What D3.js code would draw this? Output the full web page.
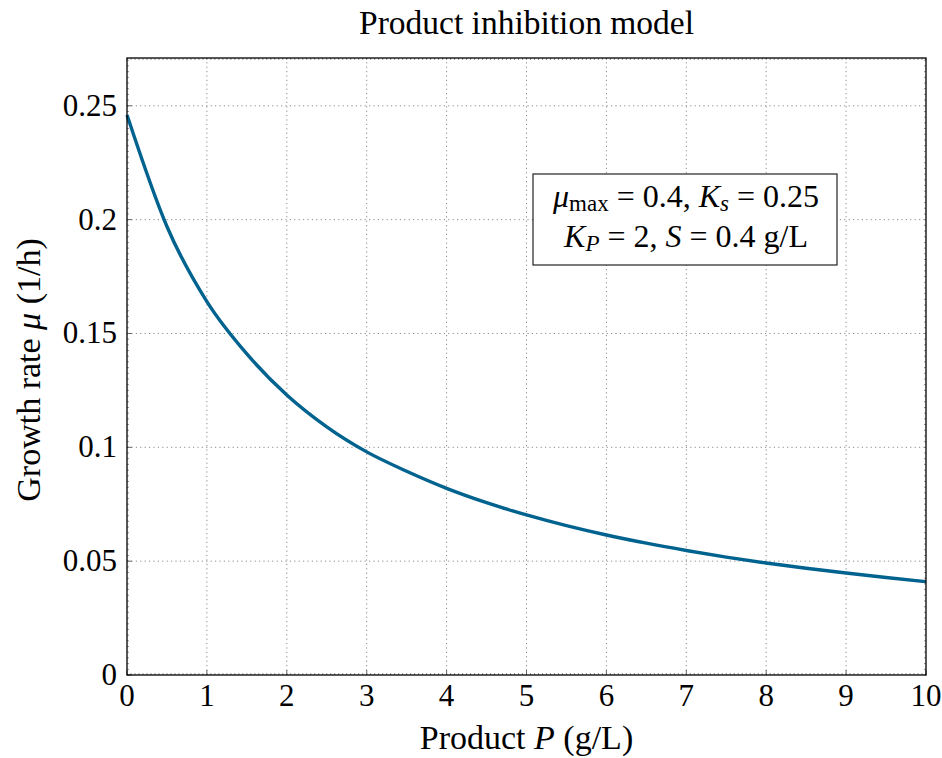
<!DOCTYPE html>
<html>
<head>
<meta charset="utf-8">
<script src="https://cdn.jsdelivr.net/npm/d3@7"></script>
<style>
  body { margin: 0; background: #fff; }
  text { font-family: "Liberation Serif", "DejaVu Serif", serif; fill: #000; }
</style>
</head>
<body>
<div id="chart"></div>
<script>
// values
const productP = [0, 0.5, 1, 1.5, 2, 2.5, 3, 3.5, 4, 4.5, 5, 5.5, 6, 6.5, 7, 7.5, 8, 8.5, 9, 9.5, 10];
const growthRate = [0.246, 0.197, 0.164, 0.141, 0.123, 0.109, 0.098, 0.0895, 0.082, 0.0757, 0.0703,
                    0.0656, 0.0615, 0.0579, 0.0547, 0.0518, 0.0492, 0.0469, 0.0448, 0.0428, 0.041];
const xTicks = [0, 1, 2, 3, 4, 5, 6, 7, 8, 9, 10];
const yTicks = [0, 0.05, 0.1, 0.15, 0.2, 0.25];

const width = 942, height = 758;
const margin = { top: 58, right: 16, bottom: 83, left: 127 };

const svg = d3.select("#chart").append("svg")
    .attr("width", width)
    .attr("height", height);

const x = d3.scaleLinear()
    .domain([0, 10])
    .range([margin.left, width - margin.right]);

const y = d3.scaleLinear()
    .domain([0, 0.271])
    .range([height - margin.bottom, margin.top]);

const data = productP.map((p, i) => ({ p: p, mu: growthRate[i] }));

// grid
svg.append("g")
    .selectAll("line")
    .data(xTicks.slice(1, -1))
    .join("line")
    .attr("x1", d => x(d)).attr("x2", d => x(d))
    .attr("y1", y.range()[0]).attr("y2", y.range()[1])
    .attr("stroke", "#8a8a8a")
    .attr("stroke-width", 1)
    .attr("stroke-dasharray", "1.2,3.2");

svg.append("g")
    .selectAll("line")
    .data(yTicks.slice(1))
    .join("line")
    .attr("x1", x.range()[0]).attr("x2", x.range()[1])
    .attr("y1", d => y(d)).attr("y2", d => y(d))
    .attr("stroke", "#8a8a8a")
    .attr("stroke-width", 1)
    .attr("stroke-dasharray", "1.2,3.2");

// minor ticks
const xMinor = d3.range(0, 10.0001, 0.05);
const yMinor = d3.range(0, 0.271, 0.0025);
const minorG = svg.append("g").attr("stroke", "#666").attr("stroke-width", 0.7);
minorG.selectAll(".xm")
    .data(xMinor)
    .join("line")
    .attr("class", "xm")
    .attr("x1", d => x(d)).attr("x2", d => x(d))
    .attr("y1", y(0)).attr("y2", y(0) - 2);
minorG.selectAll(".xm2")
    .data(xMinor)
    .join("line")
    .attr("class", "xm2")
    .attr("x1", d => x(d)).attr("x2", d => x(d))
    .attr("y1", y.range()[1]).attr("y2", y.range()[1] + 2);
minorG.selectAll(".ym")
    .data(yMinor)
    .join("line")
    .attr("class", "ym")
    .attr("x1", x(0)).attr("x2", x(0) + 2)
    .attr("y1", d => y(d)).attr("y2", d => y(d));
minorG.selectAll(".ym2")
    .data(yMinor)
    .join("line")
    .attr("class", "ym2")
    .attr("x1", x(10)).attr("x2", x(10) - 2)
    .attr("y1", d => y(d)).attr("y2", d => y(d));

// major ticks
const majorG = svg.append("g").attr("stroke", "#666").attr("stroke-width", 1);
majorG.selectAll(".xt")
    .data(xTicks)
    .join("line")
    .attr("x1", d => x(d)).attr("x2", d => x(d))
    .attr("y1", y(0)).attr("y2", y(0) - 5);
majorG.selectAll(".yt")
    .data(yTicks)
    .join("line")
    .attr("x1", x(0)).attr("x2", x(0) + 5)
    .attr("y1", d => y(d)).attr("y2", d => y(d));

// curve
svg.append("path")
    .datum(data)
    .attr("fill", "none")
    .attr("stroke", "#00628e")
    .attr("stroke-width", 3.4)
    .attr("d", d3.line()
        .x(d => x(d.p))
        .y(d => y(d.mu))
        .curve(d3.curveMonotoneX));

// frame
svg.append("rect")
    .attr("x", x.range()[0])
    .attr("y", y.range()[1])
    .attr("width", x.range()[1] - x.range()[0])
    .attr("height", y.range()[0] - y.range()[1])
    .attr("fill", "none")
    .attr("stroke", "#000")
    .attr("stroke-width", 1.3);

// axis labels
svg.append("g")
    .selectAll("text")
    .data(xTicks)
    .join("text")
    .attr("x", d => x(d))
    .attr("y", y(0) + 31)
    .attr("text-anchor", "middle")
    .attr("font-size", "31px")
    .text(d => d);

svg.append("g")
    .selectAll("text")
    .data(yTicks)
    .join("text")
    .attr("x", x(0) - 10)
    .attr("y", d => y(d) + 10)
    .attr("text-anchor", "end")
    .attr("font-size", "31px")
    .text(d => d);

// title
svg.append("text")
    .attr("x", (x.range()[0] + x.range()[1]) / 2)
    .attr("y", 34)
    .attr("text-anchor", "middle")
    .attr("font-size", "33.5px")
    .text("Product inhibition model");

// x label
const xl = svg.append("text")
    .attr("x", (x.range()[0] + x.range()[1]) / 2)
    .attr("y", 749)
    .attr("text-anchor", "middle")
    .attr("font-size", "34px");
xl.append("tspan").text("Product ");
xl.append("tspan").attr("font-style", "italic").text("P");
xl.append("tspan").text(" (g/L)");

// y label
const yl = svg.append("text")
    .attr("transform", `translate(40,370) rotate(-90)`)
    .attr("text-anchor", "middle")
    .attr("font-size", "34px");
yl.append("tspan").text("Growth rate ");
yl.append("tspan").attr("font-style", "italic").text("μ");
yl.append("tspan").text(" (1/h)");

// parameter box
const box = svg.append("g");
box.append("rect")
    .attr("x", 533).attr("y", 174)
    .attr("width", 304).attr("height", 91)
    .attr("fill", "#fff")
    .attr("stroke", "#222")
    .attr("stroke-width", 1.2);

const l1 = box.append("text")
    .attr("x", 686).attr("y", 207)
    .attr("text-anchor", "middle")
    .attr("font-size", "32px");
l1.append("tspan").attr("font-style", "italic").text("μ");
l1.append("tspan").attr("font-size", "23px").attr("dy", 4).text("max");
l1.append("tspan").attr("dy", -4).text(" = 0.4, ");
l1.append("tspan").attr("font-style", "italic").text("K");
l1.append("tspan").attr("font-style", "italic").attr("font-size", "23px").attr("dy", 4).text("s");
l1.append("tspan").attr("dy", -4).text(" = 0.25");

const l2 = box.append("text")
    .attr("x", 686).attr("y", 247)
    .attr("text-anchor", "middle")
    .attr("font-size", "32px");
l2.append("tspan").attr("font-style", "italic").text("K");
l2.append("tspan").attr("font-style", "italic").attr("font-size", "23px").attr("dy", 4).text("P");
l2.append("tspan").attr("dy", -4).text(" = 2, ");
l2.append("tspan").attr("font-style", "italic").text("S");
l2.append("tspan").text(" = 0.4 g/L");
</script>
</body>
</html>
